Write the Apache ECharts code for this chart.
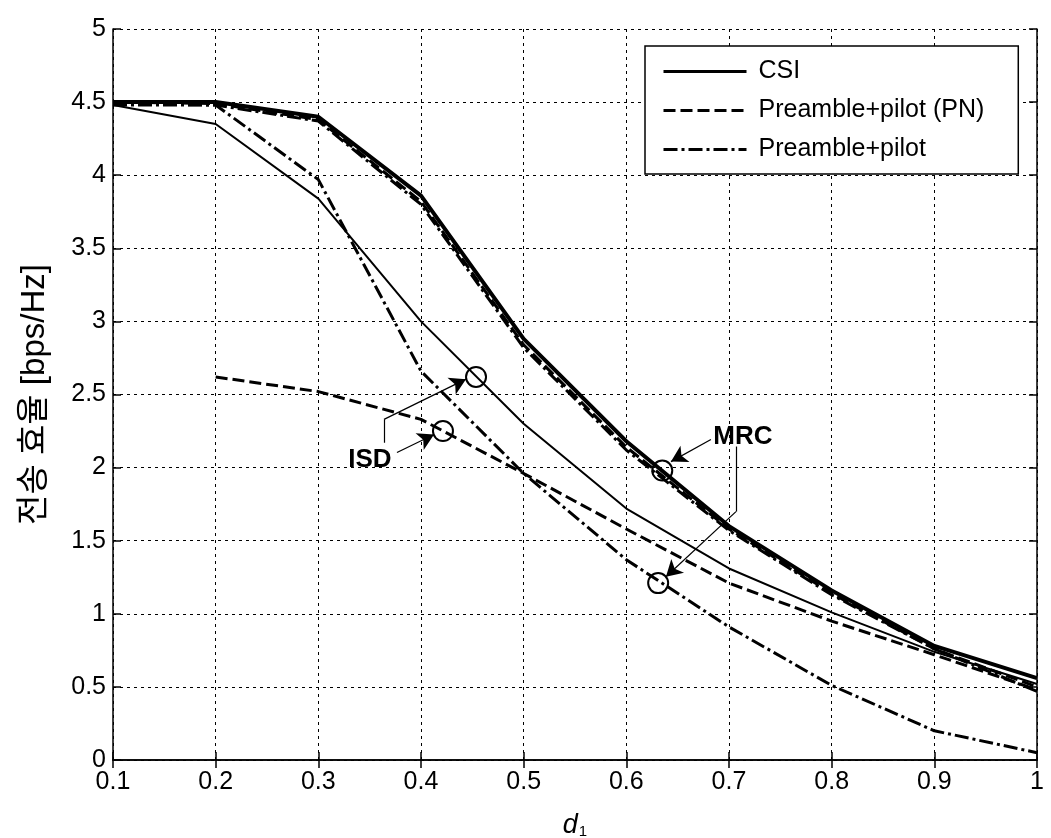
<!DOCTYPE html>
<html>
<head>
<meta charset="utf-8">
<script src="https://cdn.jsdelivr.net/npm/echarts@6/dist/echarts.min.js"></script>
<style>
html,body{margin:0;padding:0;background:#fff;}
#chart{width:1051px;height:838px;}
</style>
</head>
<body>
<div id="chart"></div>
<script>
// ---- data ----
const xValues   = [0.1, 0.2, 0.3, 0.4, 0.5, 0.6, 0.7, 0.8, 0.9, 1.0];
const csiMrc    = [4.50, 4.50, 4.40, 3.86, 2.88, 2.18, 1.60, 1.16, 0.78, 0.56];
const pnMrc     = [4.50, 4.49, 4.38, 3.82, 2.84, 2.14, 1.58, 1.14, 0.76, 0.50];
const pilotMrc  = [4.49, 4.48, 4.37, 3.80, 2.82, 2.12, 1.57, 1.13, 0.76, 0.47];
const csiIsd    = [4.48, 4.35, 3.84, 3.00, 2.30, 1.72, 1.31, 1.01, 0.74, 0.52];
const pnIsd     = [null, 2.62, 2.52, 2.33, 1.96, 1.58, 1.21, 0.95, 0.72, 0.48];
const pilotIsd  = [4.48, 4.48, 3.97, 2.66, 1.96, 1.37, 0.91, 0.51, 0.20, 0.05];
const legendNames = ['CSI', 'Preamble+pilot (PN)', 'Preamble+pilot'];
const isdCircles = [[0.4536, 2.62], [0.4214, 2.25]];
const mrcCircles = [[0.635, 1.98], [0.631, 1.21]];
const isdLabelPos = [0.3503, 2.055];
const mrcLabelPos = [0.7136, 2.212];
// leader lines [from, to, arrow?]
const isdLeaders = [
  [[0.364, 2.17], [0.364, 2.33], false],
  [[0.364, 2.33], [0.4438, 2.605], true],
  [[0.3766, 2.103], [0.4127, 2.226], true]
];
const mrcLeaders = [
  [[0.6824, 2.192], [0.6435, 2.041], true],
  [[0.7068, 2.144], [0.7068, 1.699], false],
  [[0.7068, 1.699], [0.6386, 1.253], true]
];

const pair = arr => xValues.map((x, i) => [x, arr[i]]);
const FONT = "'Liberation Sans', Arial, sans-serif";
const DASH = [12, 5];
const DASHDOT = [14, 4, 3, 4];

function lineSeries(name, data, width, type) {
  return {
    name: name, type: 'line', data: pair(data), symbol: 'none', smooth: false,
    connectNulls: false, animation: false,
    lineStyle: { color: '#000', width: width, type: type },
    itemStyle: { color: '#000' }
  };
}
function leaderLines(list) {
  return list.map(l => [
    { coord: l[0], symbol: 'none' },
    { coord: l[1], symbol: l[2] ? 'arrow' : 'none' }
  ]);
}
function annotSeries(circles, leaders, labelPos, text) {
  return {
    type: 'scatter', data: circles, symbol: 'circle', symbolSize: 20, animation: false,
    itemStyle: { color: 'rgba(0,0,0,0)', borderColor: '#000', borderWidth: 2, opacity: 1 },
    z: 5, silent: true,
    markLine: {
      silent: true, animation: false, symbolSize: [14, 16],
      lineStyle: { color: '#000', width: 1.2, type: 'solid', opacity: 1 },
      label: { show: false },
      emphasis: { disabled: true },
      data: leaderLines(leaders)
    },
    markPoint: {
      silent: true, animation: false, symbol: 'circle', symbolSize: 1,
      itemStyle: { color: 'rgba(0,0,0,0)' },
      label: { show: true, position: 'inside', formatter: text, color: '#000',
               fontFamily: FONT, fontWeight: 'bold', fontSize: 26 },
      data: [{ coord: labelPos }]
    }
  };
}

const chart = echarts.init(document.getElementById('chart'), null, { renderer: 'canvas' });
const gridLine = { show: true, lineStyle: { color: '#000', width: 1, type: [3, 4] } };
const axisLine = { show: true, lineStyle: { color: '#000', width: 1.5 } };
const tick = { show: true, inside: true, length: 8, lineStyle: { color: '#000', width: 1.5 } };

chart.setOption({
  backgroundColor: '#fff',
  animation: false,
  grid: { left: 113, right: 14, top: 29, bottom: 78, containLabel: false, outerBoundsMode: 'none' },
  legend: {
    orient: 'vertical', left: 645, top: 46,
    padding: [13, 34, 12, 17], itemWidth: 83, itemHeight: 25, itemGap: 14,
    borderColor: '#000', borderWidth: 1.5, backgroundColor: '#fff',
    data: legendNames, selectedMode: false,
    itemStyle: { color: 'rgba(0,0,0,0)', borderWidth: 0, opacity: 0 },
    lineStyle: { width: 3, color: '#000' },
    textStyle: { fontFamily: FONT, fontSize: 25, color: '#000', padding: [0, 0, 0, 7], lineHeight: 25 }
  },
  xAxis: [{
    type: 'value', min: 0.1, max: 1, interval: 0.1, position: 'bottom',
    axisLine: axisLine, axisTick: tick, splitLine: gridLine,
    axisLabel: { color: '#000', fontFamily: FONT, fontSize: 25, margin: 10,
                 formatter: v => String(Math.round(v * 10) / 10) },
    name: '{d|d}{s|1}', nameLocation: 'middle', nameGap: 52,
    nameTextStyle: { rich: {
      d: { fontFamily: FONT, fontStyle: 'italic', fontSize: 27, color: '#000', verticalAlign: 'bottom' },
      s: { fontFamily: FONT, fontSize: 15, color: '#000', verticalAlign: 'bottom', padding: [0, 0, 0, 1] }
    } }
  }, {
    type: 'value', min: 0.1, max: 1, interval: 0.1, position: 'top',
    axisLine: axisLine, axisTick: tick, splitLine: { show: false }, axisLabel: { show: false }
  }],
  yAxis: [{
    type: 'value', min: 0, max: 5, interval: 0.5, position: 'left',
    axisLine: axisLine, axisTick: tick, splitLine: gridLine,
    axisLabel: { color: '#000', fontFamily: FONT, fontSize: 25, margin: 7 },
    name: '전송 효율 [bps/Hz]', nameLocation: 'middle', nameGap: 62,
    nameTextStyle: { fontFamily: "'Liberation Sans', 'Noto Sans CJK KR', sans-serif", fontSize: 33, color: '#000' }
  }, {
    type: 'value', min: 0, max: 5, interval: 0.5, position: 'right',
    axisLine: axisLine, axisTick: tick, splitLine: { show: false }, axisLabel: { show: false }
  }],
  series: [
    lineSeries(legendNames[0], csiMrc, 4, 'solid'),
    lineSeries(legendNames[1], pnMrc, 3, DASH),
    lineSeries(legendNames[2], pilotMrc, 3, DASHDOT),
    lineSeries(legendNames[0], csiIsd, 2, 'solid'),
    lineSeries(legendNames[1], pnIsd, 3, DASH),
    lineSeries(legendNames[2], pilotIsd, 3, DASHDOT),
    annotSeries(isdCircles, isdLeaders, isdLabelPos, 'ISD'),
    annotSeries(mrcCircles, mrcLeaders, mrcLabelPos, 'MRC')
  ]
});
</script>
</body>
</html>
